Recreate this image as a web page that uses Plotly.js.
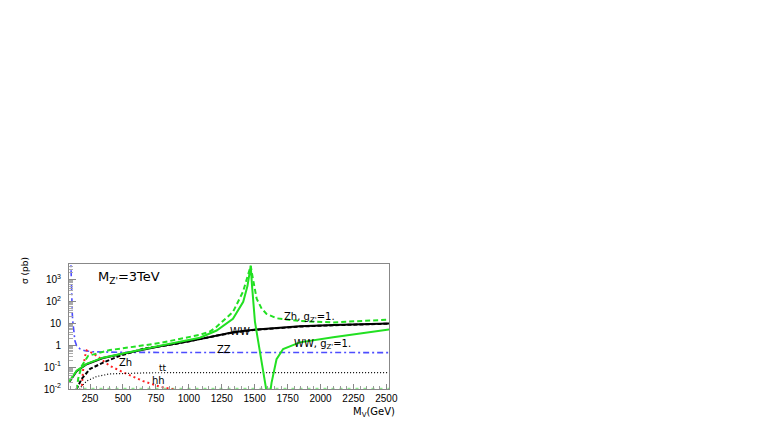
<!DOCTYPE html>
<html>
<head>
<meta charset="utf-8">
<script src="https://cdn.plot.ly/plotly-3.0.1.min.js"></script>
<style>html,body{margin:0;padding:0;background:#fff;}#chart{width:763px;height:436px;}</style>
</head>
<body>
<div id="chart"></div>
<script>
// ---- data ----
const mZZ   = [100, 103, 105, 107, 110, 113, 115, 118, 123, 128, 135, 148, 173, 211, 274, 500, 1000, 1500, 2000, 2520];
const sigZZ = [50000, 6000, 2000, 470, 200, 55, 27, 13.5, 6.6, 3.3, 1.6, 0.95, 0.68, 0.56, 0.5, 0.47, 0.46, 0.46, 0.46, 0.46];

const mHH   = [180, 186, 198, 211, 224, 250, 300, 399, 527, 653, 781, 880, 1000];
const sigHH = [0.001, 0.01, 0.083, 0.3, 0.58, 0.5, 0.33, 0.115, 0.049, 0.023, 0.0127, 0.0099, 0.007];

const mTT   = [165, 173, 224, 300, 399, 527, 700, 1000, 1500, 2000, 2520];
const sigTT = [0.005, 0.011, 0.023, 0.037, 0.049, 0.053, 0.055, 0.056, 0.056, 0.056, 0.056];

const mZh   = [140, 148, 186, 250, 349, 477, 653, 907, 1135, 1335, 1515, 1843, 2100, 2520];
const sigZh = [0.005, 0.01, 0.029, 0.083, 0.16, 0.33, 0.69, 1.17, 2.2, 3.8, 5.1, 7.1, 8.2, 9.6];

const mWW   = [95, 148, 224, 348, 528, 781, 1000, 1160, 1335, 1515, 1843, 2100, 2520];
const sigWW = [0.022, 0.065, 0.135, 0.26, 0.44, 0.9, 1.5, 2.4, 3.9, 5.2, 7.3, 8.4, 9.8];

const mWWg   = [90, 100, 148, 224, 348, 528, 781, 1084, 1211, 1335, 1413, 1445, 1458, 1470, 1480, 1489, 1502, 1515, 1540, 1565, 1585, 1600, 1615, 1628, 1666, 1716, 1843, 2096, 2520];
const sigWWg = [0.022, 0.026, 0.068, 0.14, 0.27, 0.46, 0.95, 2.2, 4.7, 16, 96, 500, 1600, 4200, 500, 66, 12, 4, 0.47, 0.056, 0.012, 0.0003, 0.005, 0.019, 0.23, 0.67, 1.35, 2.3, 5.2];

const mZhg   = [140, 148, 160, 186, 236, 401, 781, 1084, 1160, 1211, 1335, 1411, 1445, 1458, 1470, 1480, 1490, 1515, 1553, 1590, 1666, 1843, 2096, 2520];
const sigZhg = [0.004, 0.01, 0.03, 0.11, 0.33, 0.6, 1.26, 3.0, 4.2, 7.0, 33, 275, 1200, 2500, 4200, 1800, 800, 134, 47, 27, 17, 12.7, 11, 14.8];

const mLow   = [200, 2520];
const sigLow = [0.0102, 0.0102];

const xTickVals = [250, 500, 750, 1000, 1250, 1500, 1750, 2000, 2250, 2500];
const yTickVals = [0.01, 0.1, 1, 10, 100, 1000];
const yTickText = ['10<sup>-2</sup>', '10<sup>-1</sup>', '1', '10', '10<sup>2</sup>', '10<sup>3</sup>'];

// ---- plotting ----
const GREEN = '#22e022';
function tr(x, y, color, width, dash) {
  return {x: x, y: y, type: 'scatter', mode: 'lines', line: {color: color, width: width, dash: dash}, hoverinfo: 'skip'};
}
const traces = [
  tr(mLow, sigLow, '#8fe88f', 2, '3px,5px'),
  tr(mZZ, sigZZ, '#4d4dff', 1.6, '6px,3px,2px,3px'),
  tr(mHH, sigHH, '#ff2020', 2, '2px,3px'),
  tr(mTT, sigTT, '#000000', 1.2, '1px,2px'),
  tr(mWW, sigWW, '#000000', 2, 'solid'),
  tr(mZh, sigZh, '#000000', 2, '4px,2px'),
  tr(mWWg, sigWWg, GREEN, 2, 'solid'),
  tr(mZhg, sigZhg, GREEN, 2, '5px,3px')
];

const L = 69, R = 389, T = 264, B = 389;
const AFONT = 'DejaVu Sans, Verdana, sans-serif';
function px(x) { return (x - L) / (R - L); }
function py(y) { return (B - y) / (B - T); }
function ann(text, x, y, size, xanchor) {
  return {text: text, xref: 'paper', yref: 'paper', x: px(x), y: py(y), showarrow: false,
          xanchor: xanchor || 'left', yanchor: 'middle', font: {family: AFONT, size: size, color: '#000'}};
}

const font = {family: 'Liberation Sans, Arial, sans-serif', size: 10, color: '#000'};
const layout = {
  width: 763, height: 436,
  margin: {l: L, r: 763 - R, t: T, b: 436 - B, pad: 0},
  paper_bgcolor: '#fff', plot_bgcolor: '#fff',
  showlegend: false,
  font: font,
  xaxis: {
    type: 'linear', range: [90, 2520],
    tickvals: xTickVals, ticks: 'inside', ticklen: 5, tickcolor: '#888', tickwidth: 1,
    minor: {dtick: 50, tick0: 0, ticks: 'inside', ticklen: 3, tickcolor: '#999', showgrid: false},
    showgrid: false, zeroline: false, showline: true, linecolor: '#888', linewidth: 1, mirror: true,
    tickfont: font, ticklabelstandoff: 0
  },
  yaxis: {
    type: 'log', range: [-2, 3.71],
    tickvals: yTickVals, ticktext: yTickText, ticks: 'inside', ticklen: 7, tickcolor: '#888', tickwidth: 1,
    minor: {dtick: 'D1', ticks: 'inside', ticklen: 4, tickcolor: '#aaa', showgrid: false},
    showgrid: false, zeroline: false, showline: true, linecolor: '#888', linewidth: 1, mirror: true,
    tickfont: font, ticklabelstandoff: 5
  },
  annotations: [
    ann('M<sub>Z\'</sub>=3TeV', 96, 277, 13),
    ann('Zh', 117, 362, 10),
    ann('tt', 157, 368, 9),
    ann('hh', 150, 380, 10),
    ann('WW', 228, 331, 10),
    ann('ZZ', 215, 349, 10),
    ann('Zh, g<sub>Z\'</sub>=1.', 282, 317, 10),
    ann('WW, g<sub>Z\'</sub>=1.', 292, 344, 10),
    ann('M<sub>V</sub>(GeV)', 397, 412, 10, 'right'),
    {text: 'σ (pb)', xref: 'paper', yref: 'paper', x: px(25), y: py(271), showarrow: false, textangle: -90,
     xanchor: 'center', yanchor: 'middle', font: {family: AFONT, size: 9, color: '#000'}}
  ]
};
Plotly.newPlot('chart', traces, layout, {staticPlot: true, displayModeBar: false});
</script>
</body>
</html>
